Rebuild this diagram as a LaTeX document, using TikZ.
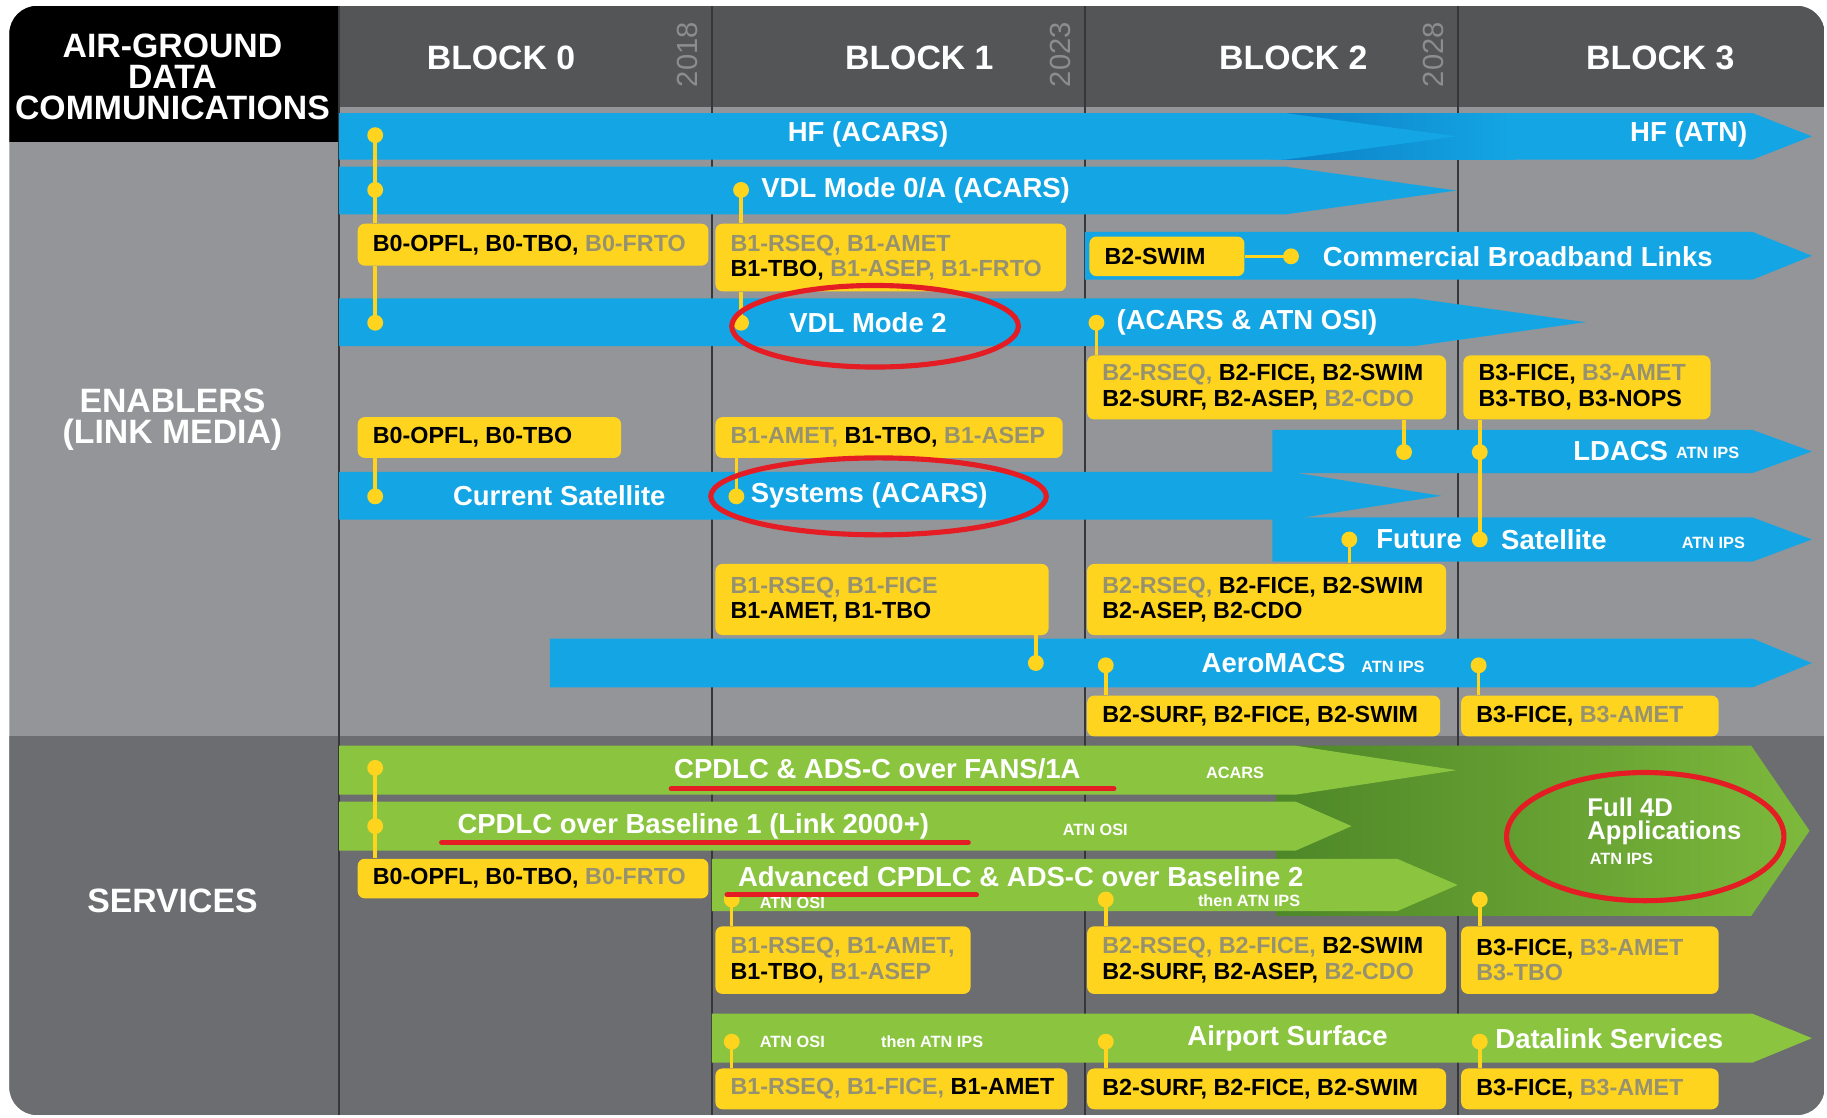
\documentclass[tikz,border=0pt]{standalone}
\usepackage{fontspec}
\setmainfont{Liberation Sans}

\definecolor{linkblue}{RGB}{20,166,228}
\definecolor{linkbluedark}{RGB}{12,128,198}
\definecolor{svcgreen}{RGB}{139,197,63}
\definecolor{svcgreendark}{RGB}{78,135,40}
\definecolor{svcgreenlight}{RGB}{125,185,60}
\definecolor{pinyellow}{RGB}{255,212,30}
\definecolor{txtgray}{RGB}{150,146,112}
\definecolor{enablergray}{RGB}{147,149,152}
\definecolor{servicegray}{RGB}{108,109,112}
\definecolor{headgray}{RGB}{84,85,87}
\definecolor{yeargray}{RGB}{140,141,143}
\definecolor{colline}{RGB}{55,55,57}
\definecolor{markred}{RGB}{228,28,36}

\newcommand{\dimtxt}[1]{\textcolor{txtgray}{#1}}
\newcommand{\hdfont}{\fontsize{14.5}{13.5}\selectfont\bfseries}
\newcommand{\lblfont}{\fontsize{11.8}{14}\selectfont\bfseries}
\newcommand{\reqfont}{\fontsize{10}{11}\selectfont\bfseries}
\newcommand{\tagfont}{\fontsize{7}{8}\selectfont\bfseries}
\newcommand{\yrfont}{\fontsize{12.5}{14}\selectfont}
\newcommand{\fdfont}{\fontsize{11}{10}\selectfont\bfseries}

% yellow box: name, x1, y1, x2, y2, text
\newcommand{\yellowbox}[6]{%
  \pgfmathsetmacro{\ybw}{(#4-#2)*0.5}%
  \pgfmathsetmacro{\ybh}{(#5-#3)*0.5}%
  \node[reqbox,minimum width=\ybw pt,minimum height=\ybh pt] (#1) at ({(#2+#4)/2},{(#3+#5)/2}) {};
  \node[reqtext] (#1-t) at ([xshift=6.5pt]#1.west) {#6};}

\begin{document}
\begin{tikzpicture}[x=0.5pt,y=-0.5pt,
  reqbox/.style={fill=pinyellow,rounded corners=3pt,inner sep=0pt},
  reqtext/.style={anchor=west,align=left,inner sep=0pt,font=\reqfont,text=black},
  pin/.style={circle,fill=pinyellow,inner sep=0pt,minimum size=6.8pt},
  link/.style={draw=pinyellow,line width=1.5pt},
  bartext/.style={text=white,font=\lblfont,inner sep=0pt},
  tag/.style={text=white,font=\tagfont,inner sep=0pt},
  headtext/.style={text=white,font=\hdfont,align=center,inner sep=0pt},
  redmark/.style={draw=markred,line width=2.2pt,line cap=round}]

  \useasboundingbox (0,0) rectangle (1568,959);
  \fill[white] (0,0) rectangle (1568,959);

  \begin{scope}
    \clip[rounded corners=12pt] (8,5) rectangle (1566,957);
    \fill[enablergray] (8,5) rectangle (1566,957);
    \fill[servicegray] (8,632) rectangle (1566,957);
    \fill[headgray] (291,5) rectangle (1566,92);
    \fill[black] (8,5) rectangle (291,122);
  \end{scope}
  \foreach \x in {291,611,931,1251}
    \draw[colline,line width=0.8pt] (\x,5) -- (\x,957);

  % link media
  \fill[linkblue] (1090,97) -- (1504,97) -- (1555,117) -- (1504,137) -- (1090,137) -- cycle;
  \shade[left color=linkbluedark,right color=linkblue] (1100,97) -- (1300,97) -- (1300,137) -- (1100,137) -- cycle;
  \foreach \xa/\ya/\xh/\xt/\yb in {291/97/1103/1250/137, 291/143/1103/1250/184, 931/199/1504/1555/240,
      291/256/1214/1361/297, 1092/369/1504/1555/406, 1092/444/1504/1555/482,
      291/405/1107/1237/446, 472/548/1504/1555/590}
    \fill[linkblue] (\xa,\ya) -- (\xh,\ya) -- (\xt,{(\ya+\yb)/2}) -- (\xh,\yb) -- (\xa,\yb) -- cycle;

  % services
  \shade[left color=svcgreendark,right color=svcgreenlight] (1095,640) -- (1503,640) -- (1553,713) -- (1503,786) -- (1095,786) -- cycle;
  \foreach \xa/\ya/\xh/\xt/\yb in {291/640/1112/1250/682, 291/688/1112/1160/730,
      611/737/1199/1251/782, 611/870/1504/1555/912}
    \fill[svcgreen] (\xa,\ya) -- (\xh,\ya) -- (\xt,{(\ya+\yb)/2}) -- (\xh,\yb) -- (\xa,\yb) -- cycle;

  % headings
  \node[headtext] (t-agdc) at (148,66) {AIR-GROUND\\DATA\\COMMUNICATIONS};
  \node[headtext] (t-enab) at (148,360) {ENABLERS\\(LINK MEDIA)};
  \node[headtext] (t-serv) at (148,773) {SERVICES};
  \foreach \n/\x in {0/430,1/789,2/1110,3/1425}
    \node[headtext] (blk\n) at (\x,50) {BLOCK \n};
  \foreach \x/\yr in {590/2018,910/2023,1230/2028}
    \node[rotate=90,text=yeargray,font=\yrfont,inner sep=0pt] (yr\yr) at (\x,47) {\yr};

  \node[bartext] (t-hfacars) at (745,115) {HF (ACARS)};
  \node[bartext,anchor=east] (t-hfatn) at (1500,115) {HF (ATN)};
  \node[bartext,anchor=west] (t-vdl0) at (653,163) {VDL Mode 0/A (ACARS)};
  \node[bartext,anchor=west] (t-cbl) at (1135,220) {Commercial Broadband Links};
  \node[bartext] (t-vdl2) at (745,277) {VDL Mode 2};
  \node[bartext,anchor=west] (t-vdl2b) at (958,277) {(ACARS \& ATN OSI)};
  \node[bartext,anchor=east] (t-ldacs) at (1432,387) {LDACS};
  \node[tag,anchor=west] (t-ldacsips) at (1438,389) {ATN IPS};
  \node[bartext] (t-cursat) at (480,425) {Current Satellite};
  \node[bartext,anchor=west] (t-cursatb) at (644,425) {Systems (ACARS)};
  \node[bartext] (t-futsat) at (1218,463) {Future};
  \node[bartext,anchor=west] (t-futsatb) at (1288,463) {Satellite};
  \node[tag,anchor=east] (t-futsatips) at (1498,466) {ATN IPS};
  \node[bartext] (t-aero) at (1093,569) {AeroMACS};
  \node[tag,anchor=west] (t-aeroips) at (1168,572) {ATN IPS};

  \node[bartext] (t-fans) at (753,660) {CPDLC \& ADS-C over FANS/1A};
  \node[tag] (t-fansacars) at (1060,663) {ACARS};
  \node[bartext] (t-bl1) at (595,709) {CPDLC over Baseline 1 (Link 2000+)};
  \node[tag] (t-bl1osi) at (940,712) {ATN OSI};
  \node[bartext,anchor=west] (t-bl2) at (633,752) {Advanced CPDLC \& ADS-C over Baseline 2};
  \node[tag] (t-bl2osi) at (680,775) {ATN OSI};
  \node[tag] (t-bl2ips) at (1072,773) {then ATN IPS};
  \node[text=white,font=\fdfont,align=left,anchor=north west,inner sep=0pt] (t-4d) at (1362,684) {Full 4D\\Applications};
  \node[tag,anchor=west] (t-4dips) at (1364,737) {ATN IPS};
  \node[tag] (t-surfosi) at (680,894) {ATN OSI};
  \node[tag] (t-surfips) at (800,894) {then ATN IPS};
  \node[bartext] (t-surf) at (1105,891) {Airport Surface};
  \node[bartext,anchor=west] (t-surfb) at (1283,891) {Datalink Services};

  % pins on the bars
  \foreach \n/\x/\y in {p1/322/116, p2/322/163, p3/322/277, p4/636/163, p5/636/277, p6/1108/220,
      p7/941/277, p8/1205/388, p9/1270/388, p10/1270/463, p11/322/426, p12/632/426,
      p13/889/569, p14/1158/463, p15/949/571, p16/1269/571, p17/322/659, p18/322/709,
      p19/628/772, p20/949/772, p21/1270/772, p22/628/894, p23/949/894, p24/1270/894}
    \coordinate (\n) at (\x,\y);

  \yellowbox{y1}{307}{192}{608}{228}{B0-OPFL, B0-TBO, \dimtxt{B0-FRTO}}
  \yellowbox{y2}{614}{192}{915}{250}{\dimtxt{B1-RSEQ, B1-AMET}\\B1-TBO, \dimtxt{B1-ASEP, B1-FRTO}}
  \yellowbox{y3}{935}{203}{1068}{237}{B2-SWIM}
  \yellowbox{y4}{933}{305}{1241}{360}{\dimtxt{B2-RSEQ,} B2-FICE, B2-SWIM\\B2-SURF, B2-ASEP, \dimtxt{B2-CDO}}
  \yellowbox{y5}{1256}{305}{1468}{360}{B3-FICE, \dimtxt{B3-AMET}\\B3-TBO, B3-NOPS}
  \yellowbox{y6}{307}{358}{533}{393}{B0-OPFL, B0-TBO}
  \yellowbox{y7}{614}{358}{912}{393}{\dimtxt{B1-AMET,} B1-TBO, \dimtxt{B1-ASEP}}
  \yellowbox{y8}{614}{484}{900}{545}{\dimtxt{B1-RSEQ, B1-FICE}\\B1-AMET, B1-TBO}
  \yellowbox{y9}{933}{484}{1241}{545}{\dimtxt{B2-RSEQ,} B2-FICE, B2-SWIM\\B2-ASEP, B2-CDO}
  \yellowbox{y10}{933}{597}{1236}{632}{B2-SURF, B2-FICE, B2-SWIM}
  \yellowbox{y11}{1254}{597}{1475}{632}{B3-FICE, \dimtxt{B3-AMET}}
  \yellowbox{y12}{307}{737}{608}{771}{B0-OPFL, B0-TBO, \dimtxt{B0-FRTO}}
  \yellowbox{y13}{614}{795}{833}{853}{\dimtxt{B1-RSEQ, B1-AMET,}\\B1-TBO, \dimtxt{B1-ASEP}}
  \yellowbox{y14}{933}{795}{1241}{853}{\dimtxt{B2-RSEQ, B2-FICE,} B2-SWIM\\B2-SURF, B2-ASEP, \dimtxt{B2-CDO}}
  \yellowbox{y15}{1254}{795}{1475}{853}{B3-FICE, \dimtxt{B3-AMET}\\\dimtxt{B3-TBO}}
  \yellowbox{y16}{614}{917}{916}{952}{\dimtxt{B1-RSEQ, B1-FICE,} B1-AMET}
  \yellowbox{y17}{933}{917}{1241}{952}{B2-SURF, B2-FICE, B2-SWIM}
  \yellowbox{y18}{1254}{917}{1475}{952}{B3-FICE, \dimtxt{B3-AMET}}

  % connectors
  \foreach \p/\b in {p1/y1, p4/y2, p7/y4, p14/y9, p15/y10, p16/y11, p17/y12, p19/y13,
      p20/y14, p21/y15, p22/y16, p23/y17, p24/y18}
    \draw[link] (\p) -- (\p |- \b.north);
  \foreach \p/\b in {p3/y1, p5/y2, p8/y4, p10/y5, p11/y6, p12/y7, p13/y8}
    \draw[link] (\p |- \b.south) -- (\p);
  \draw[link] (y3.east) -- (p6);
  \foreach \i in {1,...,24}
    \node[pin] (pin\i) at (p\i) {};

  % red marks
  \draw[redmark] (751,280) ellipse [x radius=61.5pt,y radius=17.5pt];
  \draw[redmark] (754,426) ellipse [x radius=72pt,y radius=16.5pt];
  \draw[redmark] (1412,718) ellipse [x radius=59.5pt,y radius=27.5pt];
  \draw[redmark] (576,677) -- (956,677);
  \draw[redmark] (379,723) -- (831,723);
  \draw[redmark] (624,768) -- (838,768);
\end{tikzpicture}
\end{document}
